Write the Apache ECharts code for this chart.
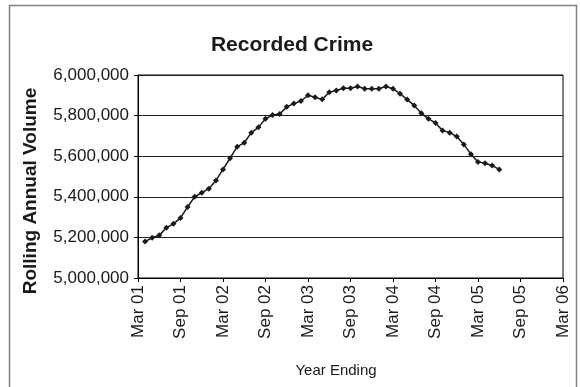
<!DOCTYPE html>
<html>
<head>
<meta charset="utf-8">
<script src="https://cdn.jsdelivr.net/npm/echarts@6/dist/echarts.min.js"></script>
<style>
  html, body { margin: 0; padding: 0; background: #fff; }
  #chart { width: 580px; height: 387px; }
</style>
</head>
<body>
<div id="chart"></div>
<script>
// Month offsets from Mar 2001 (0 = Mar 01, 60 = Mar 06)
const months = [1,2,3,4,5,6,7,8,9,10,11,12,13,14,15,16,17,18,19,20,21,22,23,24,25,
  26,27,28,29,30,31,32,33,34,35,36,37,38,39,40,41,42,43,44,45,46,47,48,49,50,51];

// Rolling annual volume of recorded crime, one value per year-ending month
const volumes = [
  5180000, 5198000, 5210000, 5248000, 5267000, 5296000, 5350000, 5400000, 5420000, 5440000,
  5480000, 5535000, 5590000, 5647000, 5666000, 5716000, 5742000, 5784000, 5803000, 5808000,
  5843000, 5859000, 5872000, 5900000, 5890000, 5880000, 5915000, 5924000, 5935000, 5935000,
  5943000, 5932000, 5932000, 5932000, 5943000, 5932000, 5908000, 5879000, 5850000, 5812000,
  5784000, 5764000, 5726000, 5716000, 5697000, 5658000, 5610000, 5572000, 5565000, 5554000,
  5535000
];

// Six-monthly x-axis tick labels
const xTickLabels = ['Mar 01','Sep 01','Mar 02','Sep 02','Mar 03','Sep 03',
  'Mar 04','Sep 04','Mar 05','Sep 05','Mar 06'];

const chart = echarts.init(document.getElementById('chart'));
const FONT = 'Liberation Sans, Arial, sans-serif';
const G = { left: 138, top: 75, width: 425, height: 203 };

chart.setOption({
  animation: false,
  backgroundColor: '#fff',
  grid: Object.assign({ show: true, borderColor: '#000', borderWidth: 1 }, G),
  graphic: [
    { type: 'rect', shape: { x: 9.5, y: 5.5, width: 567, height: 400 },
      style: { fill: 'none', stroke: '#808080', lineWidth: 1.5 }, silent: true },
    { type: 'text', x: 292, y: 45,
      style: { text: 'Recorded Crime', font: 'bold 21px ' + FONT, fill: '#1a1a1a',
               textAlign: 'center', textVerticalAlign: 'middle' } },
    { type: 'text', x: 31, y: 191, rotation: Math.PI / 2,
      style: { text: 'Rolling Annual Volume', font: 'bold 19px ' + FONT, fill: '#1a1a1a',
               textAlign: 'center', textVerticalAlign: 'middle' } },
    { type: 'text', x: 336, y: 371,
      style: { text: 'Year Ending', font: '15px ' + FONT, fill: '#1a1a1a',
               textAlign: 'center', textVerticalAlign: 'middle' } }
  ],
  xAxis: {
    type: 'value', min: 0, max: 60, interval: 6,
    axisLine: { show: true, lineStyle: { color: '#000', width: 1 } },
    axisTick: { show: true, length: 4, lineStyle: { color: '#000' } },
    splitLine: { show: false },
    axisLabel: {
      rotate: 90, margin: 7, color: '#1a1a1a', fontSize: 17, fontFamily: FONT,
      formatter: v => xTickLabels[Math.round(v / 6)] || ''
    }
  },
  yAxis: {
    type: 'value', min: 5000000, max: 6000000, interval: 200000,
    axisLine: { show: true, lineStyle: { color: '#000', width: 1 } },
    axisTick: { show: true, length: 4, lineStyle: { color: '#000' } },
    splitLine: { show: true, lineStyle: { color: '#222', width: 1 } },
    axisLabel: {
      margin: 9, color: '#1a1a1a', fontSize: 17, fontFamily: FONT,
      formatter: v => v.toLocaleString('en-US')
    }
  },
  series: [{
    type: 'line',
    data: months.map((m, i) => [m, volumes[i]]),
    symbol: 'diamond', symbolSize: 6, showSymbol: true,
    itemStyle: { color: '#1a1a1a' },
    lineStyle: { color: '#1a1a1a', width: 1.5 }
  }]
});
</script>
</body>
</html>
